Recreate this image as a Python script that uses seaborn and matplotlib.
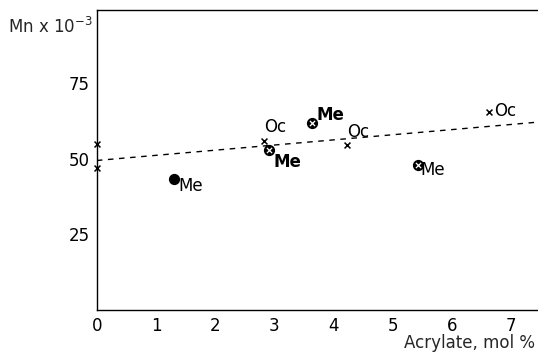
import matplotlib
matplotlib.use("Agg")
import matplotlib.pyplot as plt
import seaborn as sns
import pandas as pd

sns.set_theme(style="white")
plt.rcParams['font.family'] = ['DejaVu Sans']

# Data
oc_x = [0.0, 0.0, 2.82, 4.23, 6.63]
oc_y = [55.0, 47.0, 56.0, 54.5, 65.5]
oc_labeled = [False, False, True, True, True]

me_x = [1.30, 2.90, 3.63, 5.42]
me_y = [43.5, 53.0, 62.0, 48.0]

trend_x = [0.0, 7.45]
trend_y = [49.5, 62.2]

x_ticks = [0, 1, 2, 3, 4, 5, 6, 7]
y_ticks = [25, 50, 75]

oc = pd.DataFrame({"x": oc_x, "y": oc_y})
me = pd.DataFrame({"x": me_x, "y": me_y})

fig = plt.figure(figsize=(5.38, 3.59), dpi=100)
ax = fig.add_axes([0.180, 0.1365, 0.82, 0.8355])

sns.lineplot(x=trend_x, y=trend_y, ax=ax, color="black", lw=1.0,
             linestyle=(0, (4, 4)))
sns.scatterplot(data=oc, x="x", y="y", ax=ax, marker="x", color="black",
                s=18, linewidth=1.1, clip_on=False, zorder=5)
sns.scatterplot(data=me, x="x", y="y", ax=ax, marker="o", facecolor="black",
                edgecolor="black", s=50, linewidth=1.0, zorder=5)
sns.scatterplot(data=me.iloc[1:], x="x", y="y", ax=ax, marker="x", color="white",
                s=14, linewidth=0.9, zorder=6)

# point labels
me_offsets = [(0.08, -2.5), (0.08, -4.0), (0.08, 2.5), (0.05, -1.5)]
me_bold = [False, True, True, False]
for (x, y), (dx, dy), b in zip(zip(me_x, me_y), me_offsets, me_bold):
    ax.text(x + dx, y + dy, "Me", fontsize=12, fontweight="bold" if b else "normal",
            ha="left", va="center", color="black")
oc_offsets = [(0.0, 4.5), (0.0, 4.5), (0.08, 0.5)]
labeled = [(x, y) for x, y, f in zip(oc_x, oc_y, oc_labeled) if f]
for (x, y), (dx, dy) in zip(labeled, oc_offsets):
    ax.text(x + dx, y + dy, "Oc", fontsize=12, ha="left", va="center", color="black")

ax.set_xlim(0, 7.45)
ax.set_ylim(0, 99.3)
ax.set_xticks(x_ticks)
ax.set_yticks(y_ticks)
ax.tick_params(direction="in", length=4, width=0.8, labelsize=12, colors="black", pad=5)
ax.spines["right"].set_visible(False)
for s in ["left", "bottom", "top"]:
    ax.spines[s].set_color("black")
    ax.spines[s].set_linewidth(1.0)

ax.set_xlabel("")
ax.set_ylabel("")
fig.text(0.995, 0.02, "Acrylate, mol %", ha="right", va="bottom", fontsize=12)
fig.text(0.015, 0.925, r"Mn x 10$^{-3}$", ha="left", va="center", fontsize=12)

fig.savefig("out.png", dpi=100)
